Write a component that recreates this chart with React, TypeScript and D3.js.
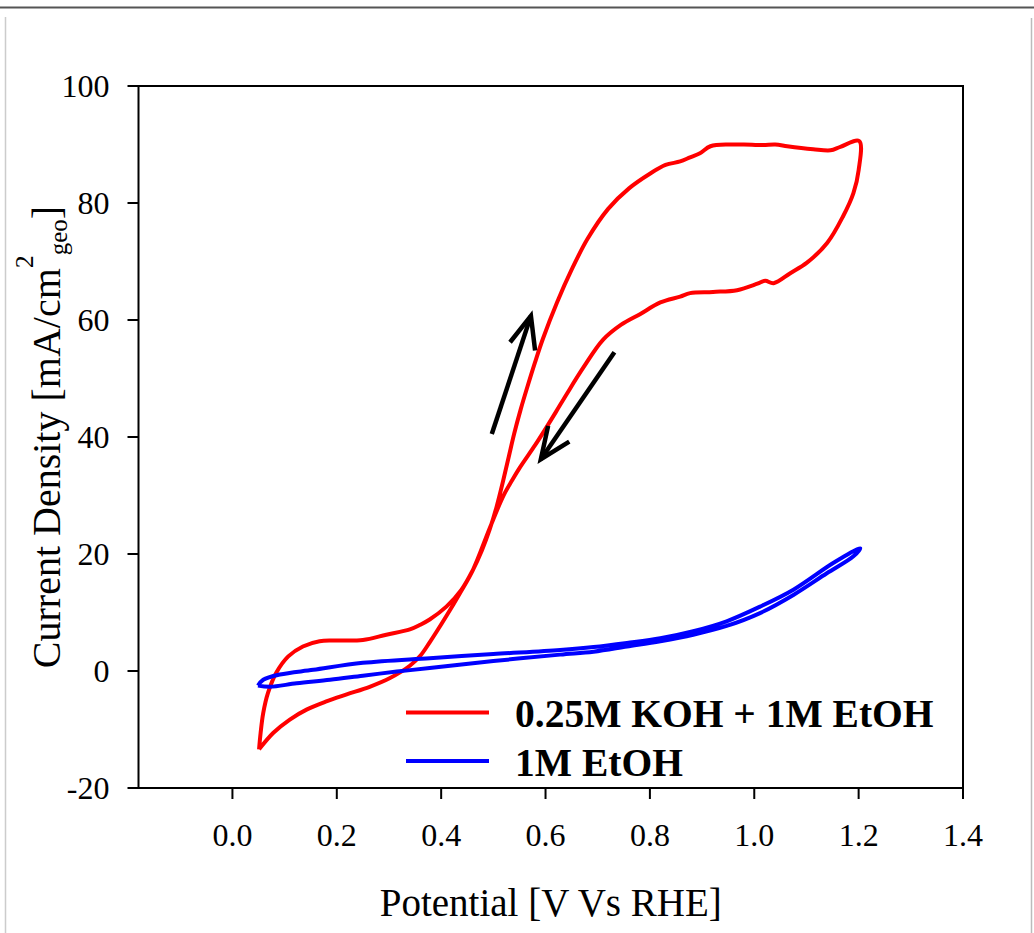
import React from "react";
import * as d3 from "d3";

// Cyclic voltammograms: potential (V vs RHE) and current density (mA/cm²geo)
const kohForwardE = [0.051, 0.054, 0.059, 0.068, 0.084, 0.107, 0.135, 0.167, 0.2, 0.25, 0.295, 0.34, 0.36, 0.378, 0.41, 0.439, 0.461, 0.478, 0.493, 0.506, 0.519, 0.53, 0.54, 0.552, 0.566, 0.58, 0.595, 0.622, 0.65, 0.68, 0.72, 0.76, 0.8, 0.83, 0.858, 0.877, 0.896, 0.916, 0.954, 0.98, 1.017, 1.04, 1.063, 1.09, 1.113, 1.146, 1.165, 1.201];
const kohForwardI = [-13.4, -10.6, -7.2, -3.8, -0.3, 2.5, 4.2, 5.1, 5.2, 5.3, 6.2, 7.1, 7.9, 8.8, 11.0, 13.9, 17.3, 20.6, 24.2, 28.0, 32.6, 36.8, 40.6, 44.6, 48.8, 52.8, 56.8, 63.0, 68.6, 73.8, 79.0, 82.5, 85.0, 86.5, 87.1, 87.8, 88.5, 89.7, 90.0, 90.0, 89.9, 90.0, 89.7, 89.4, 89.2, 89.0, 89.6, 90.6];
const kohReverseE = [1.2, 1.19, 1.17, 1.14, 1.101, 1.069, 1.037, 1.021, 1.006, 0.967, 0.921, 0.877, 0.858, 0.82, 0.781, 0.745, 0.71, 0.672, 0.641, 0.62, 0.6, 0.58, 0.551, 0.536, 0.519, 0.493, 0.461, 0.436, 0.41, 0.378, 0.36, 0.34, 0.302, 0.263, 0.219, 0.18, 0.142, 0.11, 0.078, 0.051];
const kohReverseI = [85.6, 81.7, 77.7, 73.2, 69.8, 68.0, 66.3, 66.7, 66.2, 65.1, 64.8, 64.6, 64.0, 63.0, 61.0, 59.2, 56.6, 51.8, 47.4, 44.3, 41.4, 38.6, 34.8, 32.6, 29.9, 24.4, 17.3, 13.3, 9.4, 4.9, 2.6, 0.9, -1.2, -2.7, -4.0, -5.2, -6.6, -8.3, -10.6, -13.4];

const etohForwardE = [0.049, 0.059, 0.091, 0.155, 0.25, 0.378, 0.5, 0.628, 0.692, 0.756, 0.82, 0.883, 0.947, 1.011, 1.075, 1.152, 1.203];
const etohForwardI = [-2.5, -1.5, -0.6, 0.2, 1.4, 2.2, 2.9, 3.6, 4.1, 4.8, 5.6, 6.8, 8.5, 11.0, 13.9, 18.5, 21.0];
const etohReverseE = [1.19, 1.139, 1.075, 1.011, 0.947, 0.883, 0.82, 0.756, 0.692, 0.628, 0.5, 0.378, 0.315, 0.25, 0.187, 0.123, 0.072, 0.049];
const etohReverseI = [19.6, 16.7, 13.0, 9.9, 7.7, 6.2, 5.1, 4.2, 3.3, 2.8, 1.7, 0.5, -0.1, -0.8, -1.5, -2.1, -2.7, -2.5];

const xTicks = [0.0, 0.2, 0.4, 0.6, 0.8, 1.0, 1.2, 1.4];
const yTicks = [-20, 0, 20, 40, 60, 80, 100];

const seriesNames = ["0.25M KOH + 1M EtOH", "1M EtOH"];
const seriesColors = ["#ff0000", "#0000ff"];

// Scan-direction arrows, in data coordinates: [tail, tip, wingA, wingB]
const scanArrows: [number, number][][] = [
  [[0.497, 40.5], [0.572, 60.7], [0.532, 56.2], [0.58, 54.8]],
  [[0.732, 54.5], [0.591, 36.2], [0.605, 41.9], [0.6455, 39.2]],
];

const W = 1034;
const H = 933;
const left = 138.5;
const right = 963;
const top = 86;
const bottom = 788;
const serif = "'Liberation Serif', 'Times New Roman', serif";

function zip(e: number[], i: number[]): [number, number][] {
  return e.map((v, k) => [v, i[k]]);
}

export default function App() {
  const x = d3.scaleLinear().domain([-0.18, 1.4]).range([left, right]);
  const y = d3.scaleLinear().domain([-20, 100]).range([bottom, top]);
  const line = d3
    .line<[number, number]>()
    .x((d) => x(d[0]))
    .y((d) => y(d[1]))
    .curve(d3.curveCatmullRom.alpha(0.5));

  const koh = [...zip(kohForwardE, kohForwardI), ...zip(kohReverseE, kohReverseI)];
  const etoh = [...zip(etohForwardE, etohForwardI), ...zip(etohReverseE, etohReverseI)];

  const straight = d3
    .line<[number, number]>()
    .x((d) => x(d[0]))
    .y((d) => y(d[1]));

  return (
    <svg
      width={W}
      height={H}
      style={{ position: "absolute", left: 0, top: 0, display: "block", background: "#fff" }}
    >
      {/* page frame */}
      <line x1={0} x2={W} y1={7.5} y2={7.5} stroke="#555" strokeWidth={2} />
      <line x1={5.5} x2={5.5} y1={17} y2={H} stroke="#ccc" strokeWidth={1.5} />
      <line x1={1031.5} x2={1031.5} y1={18} y2={H} stroke="#bbb" strokeWidth={1.5} />

      {/* curves */}
      <path d={line(koh) ?? ""} fill="none" stroke={seriesColors[0]} strokeWidth={4} strokeLinejoin="round" />
      <path d={line(etoh) ?? ""} fill="none" stroke={seriesColors[1]} strokeWidth={4} strokeLinejoin="round" />

      {/* arrows */}
      {scanArrows.map((a, k) => (
        <g key={k} fill="none" stroke="#000" strokeWidth={4.5}>
          <path d={straight([a[0], a[1]]) ?? ""} />
          <path d={straight([a[2], a[1], a[3]]) ?? ""} strokeLinejoin="miter" />
        </g>
      ))}

      {/* plot box */}
      <rect x={left} y={top} width={right - left} height={bottom - top} fill="none" stroke="#000" strokeWidth={2} />

      {/* y axis ticks */}
      {yTicks.map((t) => (
        <g key={"y" + t}>
          <line x1={left - 11} x2={left} y1={y(t)} y2={y(t)} stroke="#000" strokeWidth={2} />
          <text
            x={109.5}
            y={y(t) + 11}
            textAnchor="end"
            fontFamily={serif}
            fontSize={32}
            fill="#000"
          >
            {t}
          </text>
        </g>
      ))}

      {/* x axis ticks */}
      {xTicks.map((t) => (
        <g key={"x" + t}>
          <line x1={x(t)} x2={x(t)} y1={bottom} y2={bottom + 11} stroke="#000" strokeWidth={2} />
          <text x={x(t)} y={846} textAnchor="middle" fontFamily={serif} fontSize={32} fill="#000">
            {t.toFixed(1)}
          </text>
        </g>
      ))}

      {/* axis titles */}
      <text x={(left + right) / 2} y={916} textAnchor="middle" fontFamily={serif} fontSize={39} fill="#000">
        Potential [V Vs RHE]
      </text>
      <text
        transform={`translate(60, ${(top + bottom) / 2}) rotate(-90)`}
        textAnchor="middle"
        fontFamily={serif}
        fontSize={40}
        fill="#000"
      >
        Current Density [mA/cm
        <tspan fontSize={26} dy={-27}>2</tspan>
        <tspan fontSize={25} dy={34}>geo</tspan>
        <tspan fontSize={40} dy={-7}>]</tspan>
      </text>

      {/* legend */}
      {seriesNames.map((name, k) => (
        <g key={name}>
          <line
            x1={406}
            x2={489}
            y1={712.5 + k * 48.5}
            y2={712.5 + k * 48.5}
            stroke={seriesColors[k]}
            strokeWidth={4}
          />
          <text
            x={515}
            y={727 + k * 48.5}
            fontFamily={serif}
            fontWeight="bold"
            fontSize={39.5}
            fill="#000"
          >
            {name}
          </text>
        </g>
      ))}
    </svg>
  );
}
